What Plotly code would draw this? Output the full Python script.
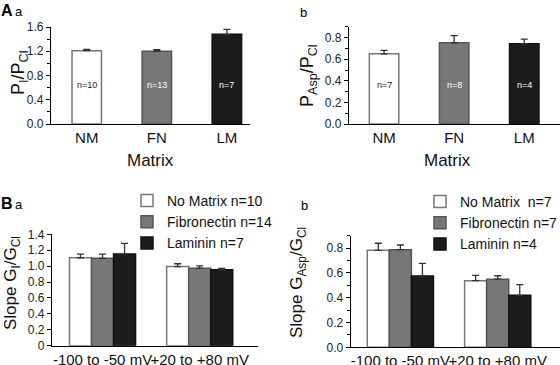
import plotly.graph_objects as go

W, H = 560, 365
FONT = "Liberation Sans, Arial, sans-serif"

# ---------------- data ----------------
a_cats = ["NM", "FN", "LM"]
aa_vals = [1.21, 1.20, 1.48]
aa_err = [0.02, 0.025, 0.08]
aa_n = ["n=10", "n=13", "n=7"]

ab_vals = [0.65, 0.753, 0.744]
ab_err = [0.033, 0.067, 0.042]
ab_n = ["n=7", "n=8", "n=4"]

b_cats = ["-100 to -50 mV", "+20 to +80 mV"]
ba_nm = [1.105, 0.995]
ba_nm_err = [0.047, 0.035]
ba_fn = [1.098, 0.972]
ba_fn_err = [0.052, 0.03]
ba_lm = [1.152, 0.953]
ba_lm_err = [0.133, 0.02]
ba_names = ["No Matrix n=10", "Fibronectin n=14", "Laminin n=7"]
ba_ticks = [0, 0.2, 0.4, 0.6, 0.8, 1.0, 1.2, 1.4]
ba_ticktext = ["0", "0.2", "0.4", "0.6", "0.8", "1.0", "1.2", "1.4"]

bb_nm = [0.782, 0.537]
bb_nm_err = [0.057, 0.043]
bb_fn = [0.787, 0.549]
bb_fn_err = [0.038, 0.028]
bb_lm = [0.575, 0.419]
bb_lm_err = [0.102, 0.086]
bb_names = ["No Matrix  n=7", "Fibronectin n=7", "Laminin n=4"]

# ---------------- styles ----------------
FILL = ["#ffffff", "#777777", "#1c1c1c"]
EDGE = ["#777777", "#555555", "#111111"]
NTXT = ["#222222", "#ffffff", "#ffffff"]


def px(x):
    return x / W


def py(y):
    return 1 - y / H


def errdict(e):
    return dict(type="data", array=e, arrayminus=[0] * len(e), symmetric=False,
                color="#333333", thickness=1.3, width=3.5, visible=True)


fig = go.Figure()

# Panel A a
fig.add_trace(go.Bar(x=a_cats, y=aa_vals, width=0.42,
                     marker=dict(color=FILL, line=dict(color=EDGE, width=1.5)),
                     error_y=errdict(aa_err), showlegend=False,
                     xaxis="x", yaxis="y"))
# Panel A b
fig.add_trace(go.Bar(x=a_cats, y=ab_vals, width=0.42,
                     marker=dict(color=FILL, line=dict(color=EDGE, width=1.5)),
                     error_y=errdict(ab_err), showlegend=False,
                     xaxis="x2", yaxis="y2"))

# Panel B a
for vals, errs, name, i in [(ba_nm, ba_nm_err, ba_names[0], 0),
                            (ba_fn, ba_fn_err, ba_names[1], 1),
                            (ba_lm, ba_lm_err, ba_names[2], 2)]:
    fig.add_trace(go.Bar(x=b_cats, y=vals, name=name,
                         marker=dict(color=FILL[i], line=dict(color=EDGE[i], width=1.5)),
                         error_y=errdict(errs), legend="legend", legendgroup="ba%d" % i,
                         xaxis="x3", yaxis="y3", offsetgroup=str(i)))
# Panel B b
for vals, errs, name, i in [(bb_nm, bb_nm_err, bb_names[0], 0),
                            (bb_fn, bb_fn_err, bb_names[1], 1),
                            (bb_lm, bb_lm_err, bb_names[2], 2)]:
    fig.add_trace(go.Bar(x=b_cats, y=vals, name=name,
                         marker=dict(color=FILL[i], line=dict(color=EDGE[i], width=1.5)),
                         error_y=errdict(errs), legend="legend2", legendgroup="bb%d" % i,
                         xaxis="x4", yaxis="y4", offsetgroup=str(i)))

axis_common = dict(showline=True, linecolor="#000000", linewidth=1.2,
                   showgrid=False, zeroline=False, fixedrange=True)
xcommon = dict(axis_common, ticks="", tickangle=0,
               tickfont=dict(family=FONT, size=15, color="#111"))
ycommon = dict(axis_common, ticks="outside", ticklen=4, tickwidth=1, tickcolor="#000",
               tickfont=dict(family=FONT, size=12, color="#222"))

fig.update_layout(
    width=W, height=H,
    margin=dict(l=0, r=0, t=0, b=0, autoexpand=False),
    paper_bgcolor="white", plot_bgcolor="white",
    barmode="group", bargap=0.32, bargroupgap=0,
    font=dict(family=FONT, color="#111"),
    xaxis=dict(xcommon, domain=[px(51), px(250)], range=[-0.51, 2.33], anchor="y"),
    yaxis=dict(ycommon, domain=[py(124), py(27)], range=[0, 1.6], anchor="x",
               tickvals=[0, 0.4, 0.8, 1.2, 1.6], ticktext=["0.0", "0.4", "0.8", "1.2", "1.6"],
               minor=dict(ticks="outside", dtick=0.2, ticklen=3, tickcolor="#000")),
    xaxis2=dict(xcommon, domain=[px(349), px(560)], range=[-0.5, 2.51], anchor="y2"),
    yaxis2=dict(ycommon, domain=[py(124), py(26.9)], range=[0, 0.9], anchor="x2",
                tickvals=[0, 0.2, 0.4, 0.6, 0.8], ticktext=["0.0", "0.2", "0.4", "0.6", "0.8"],
                minor=dict(ticks="outside", dtick=0.1, ticklen=3, tickcolor="#000")),
    xaxis3=dict(xcommon, domain=[px(52), px(258)], range=[-0.52, 1.6], anchor="y3"),
    yaxis3=dict(ycommon, domain=[py(345.7), py(234.3)], range=[0, 1.4], anchor="x3",
                tickvals=ba_ticks, ticktext=ba_ticktext),
    xaxis4=dict(xcommon, domain=[px(350.7), px(560)], range=[-0.51, 1.64], anchor="y4"),
    yaxis4=dict(ycommon, domain=[py(347.3), py(235.7)], range=[0, 0.9], anchor="x4",
                tickvals=[0, 0.2, 0.4, 0.6, 0.8], ticktext=["0.0", "0.2", "0.4", "0.6", "0.8"],
                minor=dict(ticks="outside", dtick=0.1, ticklen=3, tickcolor="#000")),
    legend=dict(x=px(127), y=py(185), xanchor="left", yanchor="top", tracegroupgap=1,
                bgcolor="rgba(0,0,0,0)", font=dict(family=FONT, size=14, color="#111"),
                traceorder="normal", itemclick=False, itemdoubleclick=False),
    legend2=dict(x=px(420), y=py(186), xanchor="left", yanchor="top", tracegroupgap=1,
                 bgcolor="rgba(0,0,0,0)", font=dict(family=FONT, size=14, color="#111"),
                 traceorder="normal", itemclick=False, itemdoubleclick=False),
)

ann = []


def note(x, y, text, size, color="#111", angle=0, xref="paper", yref="paper"):
    ann.append(dict(x=x, y=y, xref=xref, yref=yref, text=text, showarrow=False,
                    xanchor="center", yanchor="middle", textangle=angle,
                    font=dict(family=FONT, size=size, color=color)))


# n labels inside bars
for i, c in enumerate(a_cats):
    note(c, 0.64, aa_n[i], 9, NTXT[i], xref="x", yref="y")
    note(c, 0.36, ab_n[i], 9, NTXT[i], xref="x2", yref="y2")

# axis titles
note(px(150), py(160), "Matrix", 17)
note(px(447), py(160), "Matrix", 17)
note(px(20), py(73), "P<sub>I</sub>/P<sub>Cl</sub>", 18, angle=-90)
note(px(308), py(76), "P<sub>Asp</sub>/P<sub>Cl</sub>", 18, angle=-90)
note(px(12), py(283), "Slope G<sub>I</sub>/G<sub>Cl</sub>", 17, angle=-90)
note(px(298), py(283), "Slope G<sub>Asp</sub>/G<sub>Cl</sub>", 17, angle=-90)

# panel labels
for txt, x, y, bold in [("A", 7, 11, True), ("a", 19, 12, False), ("b", 303, 13, False),
                        ("B", 7, 203, True), ("a", 19, 204, False), ("b", 304, 205, False)]:
    note(px(x), py(y), f"<b>{txt}</b>" if bold else txt, 16 if bold else 13, "#000")

fig.update_layout(annotations=ann)
fig.write_html("out.html", config={"displayModeBar": False},
               post_script="document.body.style.margin='0px';document.body.style.overflow='hidden';")
